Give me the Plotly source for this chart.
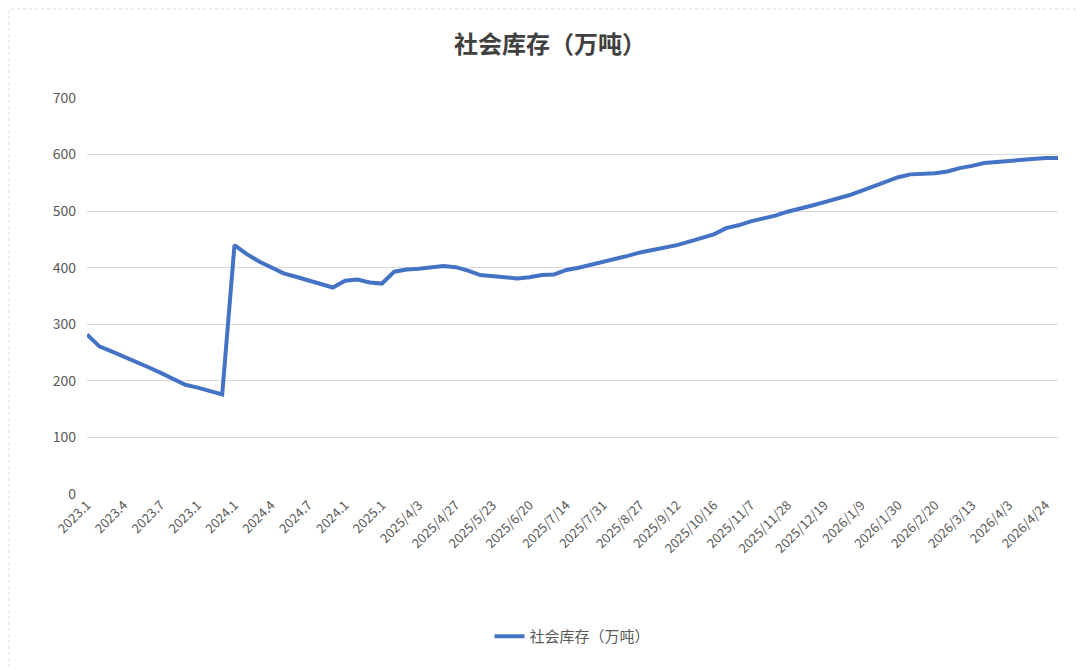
import plotly.graph_objects as go

# Categories (monthly 2023.1–2025.3, then weekly from 2025/4/3)
categories = [
    "2023.1", "2023.2", "2023.3", "2023.4", "2023.5", "2023.6", "2023.7", "2023.8", "2023.9",
    "2023.10", "2023.11", "2023.12",
    "2024.1", "2024.2", "2024.3", "2024.4", "2024.5", "2024.6", "2024.7", "2024.8", "2024.9",
    "2024.10", "2024.11", "2024.12",
    "2025.1", "2025.2", "2025.3",
    "2025/4/3", "2025/4/10", "2025/4/17", "2025/4/27", "2025/5/8", "2025/5/15", "2025/5/23",
    "2025/5/30", "2025/6/13", "2025/6/20", "2025/6/27", "2025/7/4", "2025/7/14", "2025/7/18",
    "2025/7/25", "2025/7/31", "2025/8/8", "2025/8/15", "2025/8/27", "2025/9/1", "2025/9/5",
    "2025/9/12", "2025/9/19", "2025/9/26", "2025/10/16", "2025/10/24", "2025/10/31",
    "2025/11/7", "2025/11/14", "2025/11/21", "2025/11/28", "2025/12/5", "2025/12/12",
    "2025/12/19", "2025/12/26", "2026/1/2", "2026/1/9", "2026/1/16", "2026/1/23", "2026/1/30",
    "2026/2/6", "2026/2/13", "2026/2/20", "2026/2/27", "2026/3/6", "2026/3/13", "2026/3/20",
    "2026/3/27", "2026/4/3", "2026/4/10", "2026/4/17", "2026/4/24", "2026/5/1",
]

# Social inventory (10k tonnes)
inventory = [
    282, 261, 252, 243, 234, 224, 214, 204, 193, 188, 182, 176,
    440, 424, 411, 400, 390, 384, 378, 372, 365, 377, 379, 374,
    372, 393, 397,
    398, 400, 403, 401, 395, 387, 385, 382, 381, 383, 387, 388, 396,
    400, 405, 410, 415, 421, 427, 431, 436, 440, 446, 452, 459, 470,
    475, 482, 487, 492, 499, 504, 510, 516, 522, 528, 536, 544, 552,
    560, 565, 566, 567, 570, 576, 580, 585, 587, 589, 591, 593, 594, 594,
]

# Tick labels as displayed (every third category)
tick_positions = categories[::3]
tick_labels = [
    "2023.1", "2023.4", "2023.7", "2023.1", "2024.1", "2024.4", "2024.7", "2024.1", "2025.1",
    "2025/4/3", "2025/4/27", "2025/5/23", "2025/6/20", "2025/7/14", "2025/7/31", "2025/8/27",
    "2025/9/12", "2025/10/16", "2025/11/7", "2025/11/28", "2025/12/19", "2026/1/9",
    "2026/1/30", "2026/2/20", "2026/3/13", "2026/4/3", "2026/4/24",
]
y_ticks = [0, 100, 200, 300, 400, 500, 600, 700]

series_name = "社会库存（万吨）"

fig = go.Figure()
fig.add_trace(go.Scatter(
    x=categories, y=inventory, mode="lines", name=series_name,
    line=dict(color="#4472C4", width=4),
))

font_family = "Noto Sans CJK SC, Noto Sans, sans-serif"

fig.update_layout(
    width=1084, height=670,
    paper_bgcolor="white", plot_bgcolor="white",
    margin=dict(l=79, r=34, t=90, b=184),
    title=dict(
        text="<b>" + series_name + "</b>", x=0.5, xanchor="center", y=0.945, yanchor="middle",
        font=dict(family=font_family, size=24, color="#404040"),
    ),
    showlegend=True,
    legend=dict(
        orientation="h", x=0.5, xanchor="center", y=-0.36, yanchor="middle",
        font=dict(family=font_family, size=15, color="#595959"),
    ),
    font=dict(family=font_family, color="#595959"),
)

fig.update_xaxes(
    type="category", tickmode="array", tickvals=tick_positions, ticktext=tick_labels,
    tickangle=-45, tickfont=dict(size=13, color="#595959"),
    showgrid=False, showline=False, zeroline=False, ticks="",
)
fig.update_yaxes(
    range=[0, 700], tickmode="array", tickvals=y_ticks,
    tickfont=dict(size=14, color="#595959"),
    showgrid=True, gridcolor="#D9D9D9", gridwidth=1,
    showline=False, zeroline=False, ticks="", ticklabelstandoff=10,
)

# Chart frame
fig.add_shape(
    type="rect", xref="paper", yref="paper",
    x0=-79 / 971 + 1 / 971, x1=1 + 33 / 971, y0=-184 / 396 + 2 / 396, y1=1 + 89 / 396,
    line=dict(color="#D9D9D9", width=1, dash="dot"), layer="below",
)

fig.write_html("out.html")
